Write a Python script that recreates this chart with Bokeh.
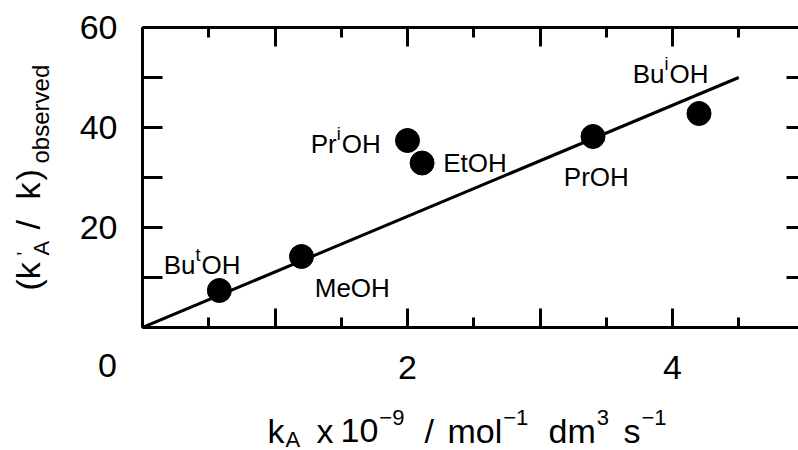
import math
from bokeh.plotting import figure
from bokeh.models import FixedTicker, LinearAxis, Range1d, ColumnDataSource, GridBox
from bokeh.core.properties import value
from bokeh.embed import file_html
from bokeh.resources import INLINE

# ---------------- data ----------------
solvents = ["ButOH", "MeOH", "PriOH", "EtOH", "PrOH", "BuiOH"]
label_base = ["Bu", "Me", "Pr", "Et", "Pr", "Bu"]
label_sup = ["t", "", "i", "", "", "i"]
label_tail = ["OH", "OH", "OH", "OH", "OH", "OH"]
kA = [0.58, 1.20, 2.00, 2.11, 3.40, 4.20]
ratio = [7.4, 14.2, 37.4, 32.9, 38.2, 42.8]
label_x = [0.16, 1.30, 1.27, 2.27, 3.18, 3.70]
label_y = [11.0, 6.4, 35.3, 31.5, 28.6, 49.2]
fit_x = [0.0, 4.5]
fit_y = [0.0, 50.0]
x_major = [0, 1, 2, 3, 4]
x_minor = [0.5, 1.5, 2.5, 3.5, 4.5]
x_tick_labels = {0: "", 1: "", 3: ""}
y_major = [0, 10, 20, 30, 40, 50, 60]
y_tick_labels = {0: "", 10: "", 30: "", 50: ""}
origin_label = "0"

# axis-title pieces (text, role): m = main, b = subscript, p = superscript, q = prime
x_title = [("k", "m"), ("A", "b"), ("x", "m"), ("10", "m"), ("\u22129", "p"), ("/", "m"),
           ("mol", "m"), ("\u22121", "p"), ("dm", "m"), ("3", "p"), ("s", "m"), ("\u22121", "p")]
y_title = [("(k", "m"), ("A", "b"), ("'", "q"), ("/", "m"), ("k", "m"), (")", "m"),
           ("observed", "b")]

FONT = "Liberation Sans"
AW = {'B': .667, 'u': .556, 'M': .833, 'e': .556, 'P': .667, 'r': .333, 'E': .667,
      't': .278, 'i': .222, 'O': .778, 'H': .722, 'k': .5, 'm': .833, 'o': .556,
      'l': .222, 'd': .556, 's': .5, '1': .556, '0': .556, 'A': .667, 'x': .5,
      '/': .278, '9': .556, '3': .556, '\u2212': .584, '(': .333, ')': .333,
      "'": .191, 'b': .556, 'v': .5}


def tw(s, size):
    return sum(AW.get(c, 0.556) for c in s) * size


BL = 0.28  # baseline correction (fraction of font size) for the SVG text baseline

FL, FT, FB = 142, 27, 327
W, H = 798, 450

# ---------------- main plot ----------------
p = figure(width=W, height=H, output_backend="svg", toolbar_location=None,
           x_range=Range1d(0, (W - FL) / 132.5), y_range=Range1d(0, 60),
           min_border_left=FL, min_border_right=0, min_border_top=FT,
           min_border_bottom=H - FB, x_axis_location=None, y_axis_location=None)
p.outline_line_color = None
p.xgrid.visible = False
p.ygrid.visible = False
p.background_fill_color = "white"
p.border_fill_color = "white"


def style_axis(ax, tick_in, minor_in, labels=True, line=True):
    ax.axis_line_width = 3
    ax.axis_line_color = "black" if line else None
    ax.major_tick_line_width = 3
    ax.minor_tick_line_width = 3
    ax.major_tick_in = tick_in
    ax.major_tick_out = 0
    ax.minor_tick_in = minor_in
    ax.minor_tick_out = 0
    ax.major_label_text_font = FONT
    ax.major_label_text_color = "black"
    if labels:
        ax.major_label_text_font_size = "34px"
    else:
        ax.major_label_text_font_size = "0px"
        ax.major_label_standoff = 0


xb = LinearAxis(ticker=FixedTicker(ticks=x_major, minor_ticks=x_minor))
style_axis(xb, 19, 10)
xb.major_label_overrides = x_tick_labels
xb.major_label_standoff = 28
p.add_layout(xb, "below")

xt = LinearAxis(ticker=FixedTicker(ticks=x_major, minor_ticks=x_minor))
style_axis(xt, 19, 10, labels=False)
xt.major_label_overrides = {t: "" for t in x_major}
p.add_layout(xt, "above")

yl = LinearAxis(ticker=FixedTicker(ticks=y_major))
style_axis(yl, 20, 0)
yl.major_label_overrides = y_tick_labels
yl.major_label_standoff = 25
p.add_layout(yl, "left")

yr = LinearAxis(ticker=FixedTicker(ticks=y_major))
style_axis(yr, 12, 0, labels=False, line=False)
yr.major_label_overrides = {t: "" for t in y_major}
p.add_layout(yr, "right")

p.line(fit_x, fit_y, line_width=3, line_color="black")
p.scatter(kA, ratio, size=24, fill_color="black", line_color="black")

LS, SS = 26, 18
src = ColumnDataSource(dict(
    x=label_x, y=label_y, base=label_base, sup=label_sup, tail=label_tail,
    sup_off=[tw(b, LS) for b in label_base],
    tail_off=[tw(b, LS) + (tw(s, SS) + 1 if s else 0) for b, s in zip(label_base, label_sup)],
))
common = dict(text_font=value(FONT), text_color="black", text_baseline="alphabetic",
              text_align="left", source=src)
p.text(x="x", y="y", text="base", text_font_size=f"{LS}px", y_offset=-BL * LS, **common)
p.text(x="x", y="y", text="sup", text_font_size=f"{SS}px", x_offset="sup_off",
       y_offset=-BL * LS - 10, **common)
p.text(x="x", y="y", text="tail", text_font_size=f"{LS}px", x_offset="tail_off",
       y_offset=-BL * LS, **common)

# ---------------- transparent overlay for titles (canvas-pixel ranges) ----------------
ov = figure(width=W, height=H, output_backend="svg", toolbar_location=None,
            x_range=Range1d(0, W), y_range=Range1d(H, 0),
            min_border=0, x_axis_location=None, y_axis_location=None)
ov.outline_line_color = None
ov.xgrid.visible = False
ov.ygrid.visible = False
ov.background_fill_color = None
ov.border_fill_color = None

for fig in (p, ov):
    try:
        fig.frame_align = False
    except Exception:
        pass

F, S = 34, 22
role_size = {"m": F, "b": S, "p": S, "q": 20}
# x title: main pieces at measured left edges; scripts follow the previous piece
main_left = {0: 267, 2: 316, 3: 340, 5: 424, 6: 447, 8: 548, 10: 623}
x_base = {"m": 440, "b": 445, "p": 423}
# y title (rotated): start (bottom) positions and baseline columns
y_start = [290, 255, 255, 229, 199, 180, 163]
y_base = {"m": 37, "b": 47, "q": 29}

tx = dict(x=[], y=[], text=[], size=[], angle=[])
prev_end = 0
for i, (t, r) in enumerate(x_title):
    size = role_size[r]
    left = main_left[i] if i in main_left else prev_end + 1
    prev_end = left + tw(t, size)
    tx["x"].append(left); tx["y"].append(x_base[r] - BL * size); tx["text"].append(t)
    tx["size"].append(f"{size}px"); tx["angle"].append(0.0)
for (t, r), ys in zip(y_title, y_start):
    size = 24 if t == "observed" else role_size[r]
    tx["x"].append(y_base[r] - BL * size); tx["y"].append(ys); tx["text"].append(t)
    tx["size"].append(f"{size}px"); tx["angle"].append(math.pi / 2)
ov.text(x="x", y="y", text="text", text_font_size="size", angle="angle",
        text_font=value(FONT), text_color="black", text_align="left",
        text_baseline="alphabetic", source=ColumnDataSource(tx))
ov.text(x=[107], y=[365], text=[origin_label], text_font_size="34px",
        text_font=value(FONT), text_color="black", text_align="center",
        text_baseline="middle")

layout = GridBox(children=[(p, 0, 0), (ov, 0, 0)])
open("out.html", "w").write(file_html(layout, INLINE))
